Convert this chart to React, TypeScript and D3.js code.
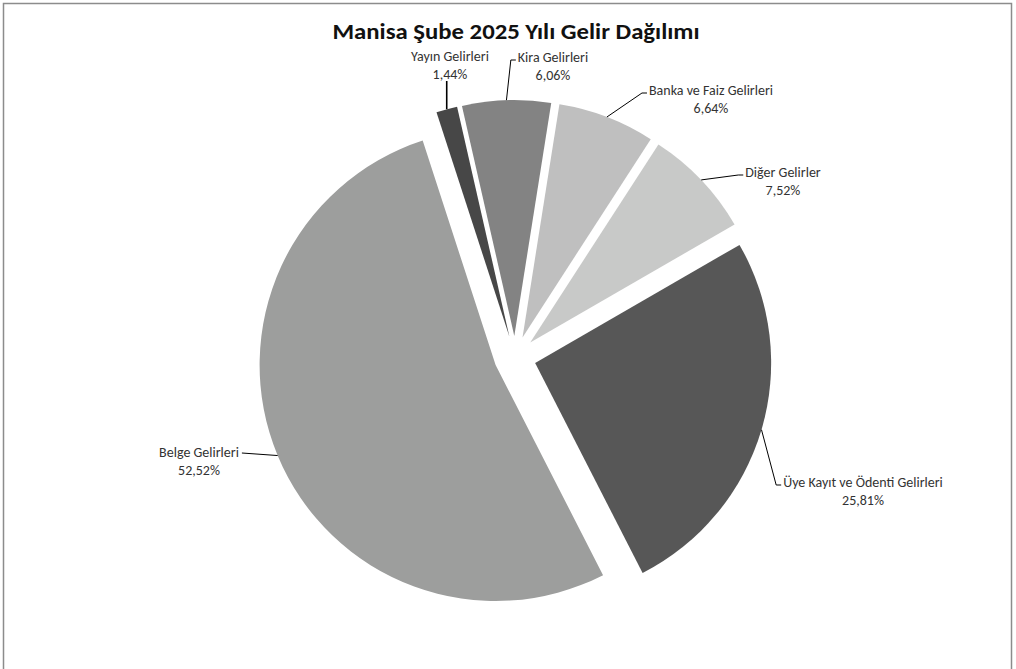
import React, { useEffect, useRef } from "react";
import * as d3 from "d3";

// ---- data ----
const categories = [
  "Yayın Gelirleri",
  "Kira Gelirleri",
  "Banka ve Faiz Gelirleri",
  "Diğer Gelirler",
  "Üye Kayıt ve Ödenti Gelirleri",
  "Belge Gelirleri",
];
const values = [1.44, 6.06, 6.64, 7.52, 25.81, 52.52];
const colors = ["#474747", "#838383", "#bfbfbf", "#c8c9c8", "#575757", "#9d9e9d"];
const title = "Manisa Şube 2025 Yılı Gelir Dağılımı";

// ---- layout ----
const W = 1016;
const H = 669;
const CX = 515;
const CY = 357;
const R = 236;
const EXPLODE = 21;
const START_DEG = -18;
// label block position (center x, first line center y) and which side the leader attaches
const labelLayout = [
  { x: 450, y: 56, side: "bottom" },
  { x: 553, y: 57, side: "left" },
  { x: 711, y: 90, side: "left" },
  { x: 783, y: 172, side: "left" },
  { x: 863, y: 482, side: "left" },
  { x: 199, y: 452, side: "right" },
];

const FONT = "Calibri, Carlito, Lato, 'Noto Sans', sans-serif";

export default function App() {
  const ref = useRef<SVGSVGElement | null>(null);

  useEffect(() => {
    const svg = d3.select(ref.current);
    svg.selectAll("*").remove();

    svg
      .append("rect")
      .attr("x", 3.5)
      .attr("y", 3.5)
      .attr("width", 1008)
      .attr("height", 720)
      .attr("fill", "#ffffff")
      .attr("stroke", "#8c8c8c")
      .attr("stroke-width", 1.5);

    svg
      .append("text")
      .attr("x", 516)
      .attr("y", 38.5)
      .attr("text-anchor", "middle")
      .attr("font-family", FONT)
      .attr("font-weight", "bold")
      .attr("font-size", 22.5)
      .attr("fill", "#111")
      .attr("textLength", 367)
      .attr("lengthAdjust", "spacingAndGlyphs")
      .text(title);

    const data = categories.map((c, i) => ({ name: c, value: values[i], color: colors[i], lay: labelLayout[i] }));
    const start = (START_DEG * Math.PI) / 180;
    const pie = d3
      .pie<any>()
      .sort(null)
      .value((d: any) => d.value)
      .startAngle(start)
      .endAngle(start + 2 * Math.PI);
    const arcs = pie(data);
    const arc = d3.arc<any>().innerRadius(0).outerRadius(R);
    const fmt = (v: number) => d3.format(".2f")(v).replace(".", ",") + "%";

    const g = svg.append("g").attr("transform", `translate(${CX},${CY})`);
    arcs.forEach((a: any) => {
      const mid = (a.startAngle + a.endAngle) / 2;
      const dx = Math.sin(mid) * EXPLODE;
      const dy = -Math.cos(mid) * EXPLODE;
      g.append("path")
        .attr("d", arc(a) as string)
        .attr("transform", `translate(${dx},${dy})`)
        .attr("fill", a.data.color);
    });

    const lg = svg.append("g");
    arcs.forEach((a: any) => {
      const mid = (a.startAngle + a.endAngle) / 2;
      const px = CX + Math.sin(mid) * (R + EXPLODE);
      const py = CY - Math.cos(mid) * (R + EXPLODE);
      const lay = a.data.lay;
      const t = lg
        .append("text")
        .attr("x", lay.x)
        .attr("text-anchor", "middle")
        .attr("font-family", FONT)
        .attr("font-size", 14)
        .attr("fill", "#333");
      t.append("tspan").attr("x", lay.x).attr("y", lay.y + 5).text(a.data.name);
      t.append("tspan").attr("x", lay.x).attr("y", lay.y + 22.5).text(fmt(a.data.value));
      const node = t.node() as SVGTextElement;
      const w = (node.firstChild as SVGTextContentElement).getComputedTextLength();
      let pts: [number, number][];
      if (lay.side === "left") {
        const left = lay.x - w / 2;
        pts = [
          [px, py],
          [left - 7, lay.y + 3],
          [left - 2, lay.y + 3],
        ];
      } else if (lay.side === "right") {
        const right = lay.x + w / 2;
        pts = [
          [px, py],
          [right + 3, lay.y + 1],
        ];
      } else {
        pts = [
          [px, py],
          [px, lay.y + 25],
        ];
      }
      lg.append("path")
        .attr("d", d3.line()(pts) as string)
        .attr("fill", "none")
        .attr("stroke", "#000")
        .attr("stroke-width", lay.side === "bottom" ? 1.6 : 1);
    });
  }, []);

  return (
    <svg
      ref={ref}
      width={W}
      height={H}
      style={{ position: "absolute", left: 0, top: 0, display: "block" }}
    />
  );
}
